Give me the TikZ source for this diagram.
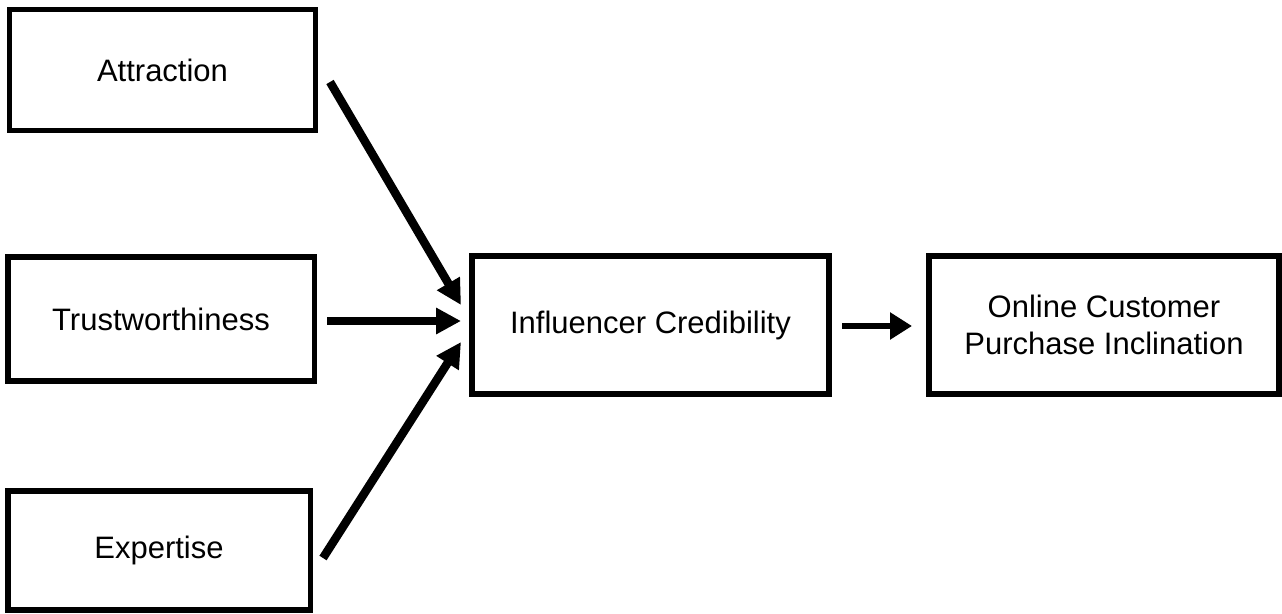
\documentclass[tikz,border=0pt]{standalone}
\usepackage{fontspec}
\setmainfont{Liberation Sans}
\usetikzlibrary{arrows.meta}
\begin{document}
\begin{tikzpicture}[x=1pt,y=-1pt,
  boxnode/.style={draw=black,line width=5.5pt,rectangle,align=center,inner sep=0pt,
    font=\fontsize{31}{37}\selectfont},
  bigarrow/.style={line width=8.5pt,-{Triangle[length=25pt,width=25pt]}},
  smallarrow/.style={line width=6.5pt,-{Triangle[length=22pt,width=26pt]}}]
\useasboundingbox (0,0) rectangle (1282,613);
\node[boxnode,minimum width=306pt,minimum height=121pt] (attr) at (162.5,70) {Attraction};
\node[boxnode,minimum width=306.5pt,minimum height=124pt] (trust) at (161,319) {Trustworthiness};
\node[boxnode,minimum width=302.5pt,minimum height=119pt] (expert) at (159,550.5) {Expertise};
\node[boxnode,minimum width=357pt,minimum height=138pt] (cred) at (650.5,325) {Influencer Credibility};
\node[boxnode,minimum width=350pt,minimum height=138pt] (online) at (1104,325) {Online Customer\\Purchase Inclination};
\coordinate (a1) at (330,82);
\coordinate (a2) at (461,305);
\coordinate (t1) at (327,321);
\coordinate (t2) at (461,321);
\coordinate (e1) at (323,558);
\coordinate (e2) at (461,342);
\coordinate (c1) at (842,326);
\coordinate (c2) at (912,326);
\draw[bigarrow] (a1) -- (a2);
\draw[bigarrow] (t1) -- (t2);
\draw[bigarrow] (e1) -- (e2);
\draw[smallarrow] (c1) -- (c2);
\end{tikzpicture}
\end{document}
